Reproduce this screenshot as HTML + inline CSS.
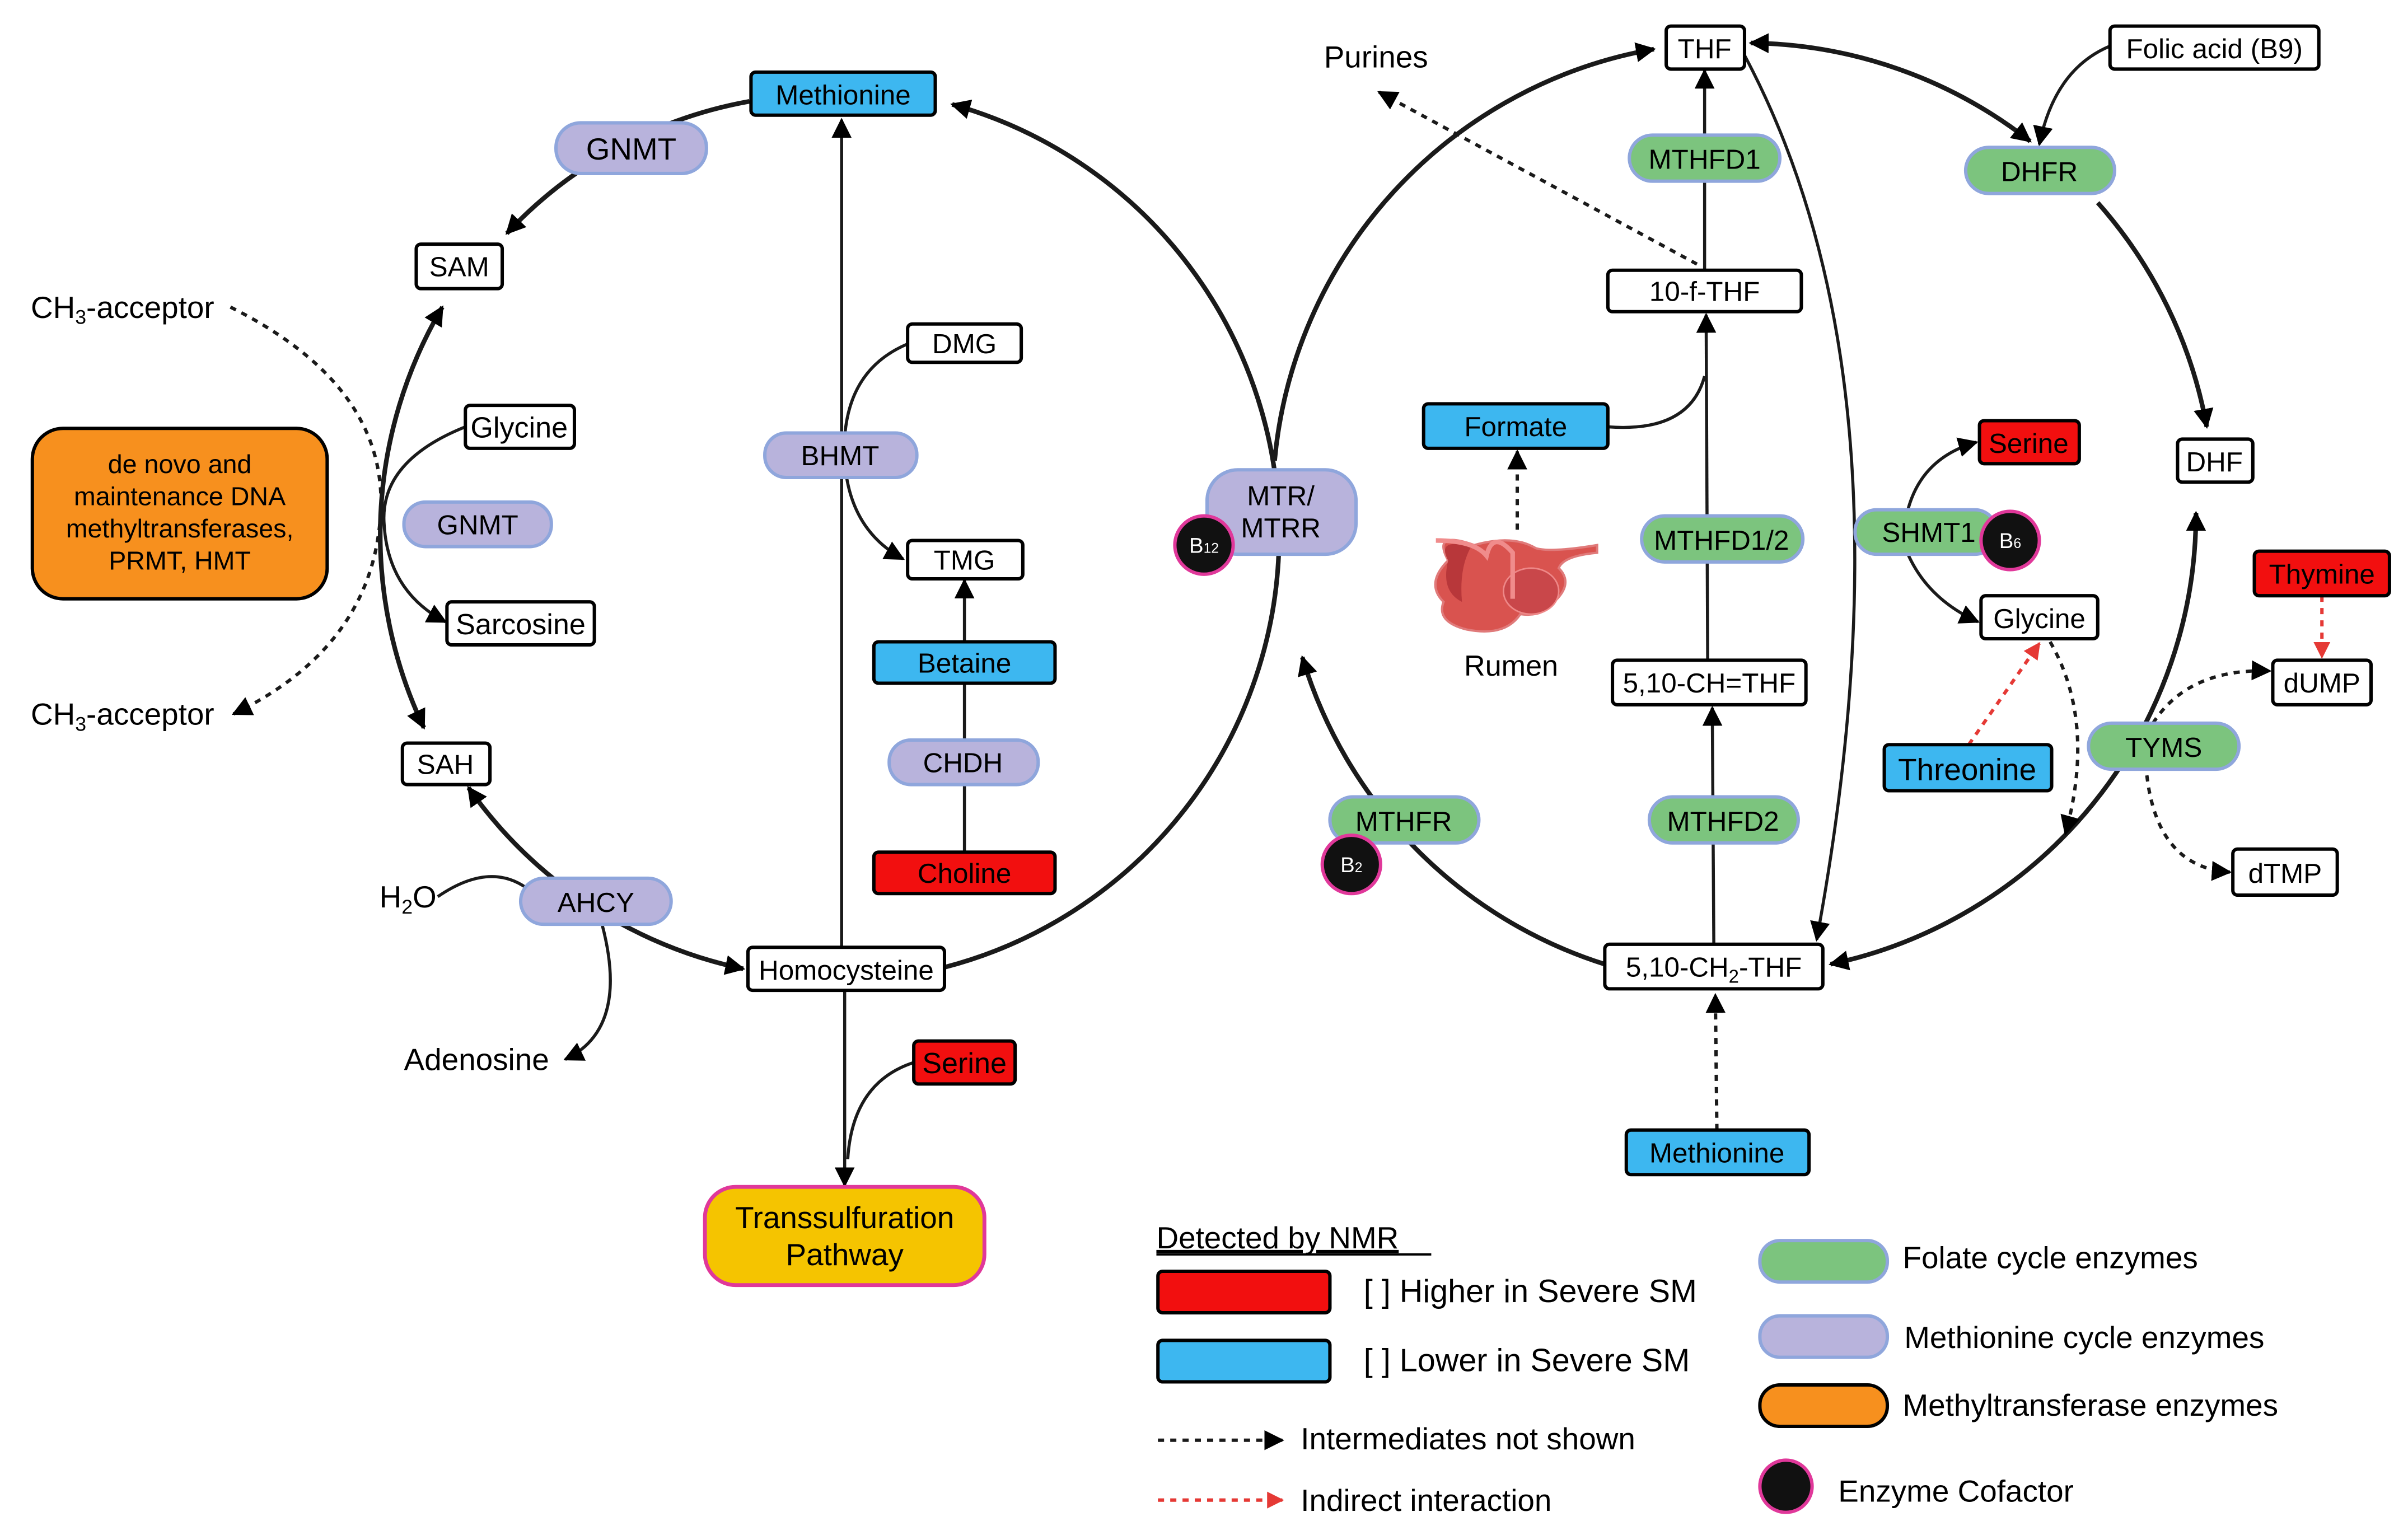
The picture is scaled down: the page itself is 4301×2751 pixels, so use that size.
<!DOCTYPE html>
<html><head><meta charset="utf-8"><style>
html,body{margin:0;padding:0;background:#fff;}
svg{display:block;}
text{font-family:"Liberation Sans",sans-serif;fill:#000;}
text.w{fill:#fff;}
</style></head><body>
<svg width="4301" height="2751" viewBox="0 0 1568 1003" xmlns="http://www.w3.org/2000/svg">
<defs>
<marker id="a" viewBox="0 0 10 10" refX="9" refY="5" markerWidth="13" markerHeight="13" markerUnits="userSpaceOnUse" orient="auto-start-reverse"><path d="M0,0L10,5L0,10z" fill="#000"/></marker>
<marker id="r" viewBox="0 0 10 10" refX="9" refY="5" markerWidth="11" markerHeight="11" markerUnits="userSpaceOnUse" orient="auto-start-reverse"><path d="M0,0L10,5L0,10z" fill="#e53935"/></marker>
</defs>
<g fill="none" stroke="#1a1a1a" stroke-width="3">
<path d="M615,630 A291,291 0 0 0 620,68" marker-end="url(#a)"/>
<path d="M488,66 A285,285 0 0 0 330,152" marker-end="url(#a)"/>
<path d="M288,200 A292,292 0 0 0 276,474" marker-start="url(#a)" marker-end="url(#a)"/>
<path d="M305,513 A292,292 0 0 0 484,631" marker-start="url(#a)" marker-end="url(#a)"/>
<path d="M830,300 A300,300 0 0 1 1077,32" marker-end="url(#a)"/>
<path d="M1140,28 A300,300 0 0 1 1322,92" marker-start="url(#a)" marker-end="url(#a)"/>
<path d="M1366,132 A300,300 0 0 1 1437,278" marker-end="url(#a)"/>
<path d="M1430,334 A300,300 0 0 1 1192,628" marker-start="url(#a)" marker-end="url(#a)"/>
<path d="M1045,628 A300,300 0 0 1 848,428" marker-end="url(#a)"/>
</g>
<g fill="none" stroke="#1a1a1a" stroke-width="2">
<path d="M1136,36 Q1250,250 1183,612" marker-end="url(#a)"/>
<path d="M548,617 L548,78" marker-end="url(#a)"/>
<path d="M591,224 Q553,240 550,285"/>
<path d="M550,300 Q553,345 588,364" marker-end="url(#a)"/>
<path d="M628,418 L628,378" marker-end="url(#a)"/>
<path d="M628,445 L628,555"/>
<path d="M550,645 L550,772" marker-end="url(#a)"/>
<path d="M595,692 Q555,705 552,755"/>
<path d="M303,278 Q248,300 250,340 Q252,385 290,405" marker-end="url(#a)"/>
<path d="M285,584 Q320,560 345,580"/>
<path d="M392,602 Q410,670 368,690" marker-end="url(#a)"/>
<path d="M1110,176 L1110,46" marker-end="url(#a)"/>
<path d="M1112,430 L1111,205" marker-end="url(#a)"/>
<path d="M1047,278 Q1100,282 1110,245"/>
<path d="M1116,615 L1115,461" marker-end="url(#a)"/>
<path d="M1374,30 Q1338,45 1328,94" marker-end="url(#a)"/>
<path d="M1240,345 Q1245,300 1287,288" marker-end="url(#a)"/>
<path d="M1242,360 Q1255,390 1288,405" marker-end="url(#a)"/>
</g>
<g fill="none" stroke="#1a1a1a" stroke-width="2.2" stroke-dasharray="4,4">
<path d="M150,200 Q250,250 248,330 Q245,420 152,465" marker-end="url(#a)"/>
<path d="M1118,736 L1117,648" marker-end="url(#a)"/>
<path d="M1105,172 L898,60" marker-end="url(#a)"/>
<path d="M988,345 L988,294" marker-end="url(#a)"/>
<path d="M1335,418 Q1365,470 1345,543" marker-end="url(#a)"/>
<path d="M1398,478 Q1420,435 1478,437" marker-end="url(#a)"/>
<path d="M1398,505 Q1405,565 1452,568" marker-end="url(#a)"/>
<path d="M754,938 L835,938" marker-end="url(#a)"/>
</g>
<g fill="none" stroke="#e53935" stroke-width="2.2" stroke-dasharray="4,4">
<path d="M1282,485 L1328,419" marker-end="url(#r)"/>
<path d="M1512,388 L1512,428" marker-end="url(#r)"/>
<path d="M754,977 L835,977" marker-end="url(#r)"/>
</g>
<g>
<path d="M943,365 Q932,345 960,355 Q985,348 1000,357 Q1010,360 1040,355 L1040,360 Q1018,362 1015,370 Q1025,380 1012,392 Q1005,402 990,400 Q980,415 955,410 Q935,405 940,392 Q928,380 943,365z" fill="#d9534f" stroke="#e07a7a" stroke-width="1.5"/>
<path d="M943,365 Q935,350 958,356 Q950,370 952,392 Q938,385 943,365z" fill="#b8373a"/>
<ellipse cx="997" cy="385" rx="18" ry="15" fill="#c9474a" stroke="#e88" stroke-width="1"/>
<path d="M935,352 Q960,352 968,362 Q972,345 985,360 L985,390" fill="none" stroke="#f08c8c" stroke-width="3"/>
</g>
<g stroke="#000" stroke-width="2.2">
<rect x="489" y="47" width="120" height="28" rx="3" fill="#3db7f0"/>
<rect x="271" y="159" width="56" height="29" rx="3" fill="#fff"/>
<rect x="303" y="264" width="71" height="28" rx="3" fill="#fff"/>
<rect x="291" y="392" width="96" height="28" rx="3" fill="#fff"/>
<rect x="262" y="484" width="57" height="27" rx="3" fill="#fff"/>
<rect x="591" y="211" width="74" height="25" rx="3" fill="#fff"/>
<rect x="591" y="352" width="75" height="25" rx="3" fill="#fff"/>
<rect x="569" y="418" width="118" height="27" rx="3" fill="#3db7f0"/>
<rect x="569" y="555" width="118" height="27" rx="3" fill="#f20f0f"/>
<rect x="487" y="617" width="128" height="28" rx="3" fill="#fff"/>
<rect x="595" y="678" width="66" height="28" rx="3" fill="#f20f0f"/>
<rect x="1085" y="17" width="51" height="28" rx="3" fill="#fff"/>
<rect x="1374" y="17" width="136" height="28" rx="3" fill="#fff"/>
<rect x="1047" y="176" width="126" height="27" rx="3" fill="#fff"/>
<rect x="927" y="263" width="120" height="29" rx="3" fill="#3db7f0"/>
<rect x="1289" y="274" width="65" height="28" rx="3" fill="#f20f0f"/>
<rect x="1290" y="388" width="76" height="28" rx="3" fill="#fff"/>
<rect x="1227" y="485" width="109" height="30" rx="3" fill="#3db7f0"/>
<rect x="1418" y="286" width="49" height="28" rx="3" fill="#fff"/>
<rect x="1468" y="359" width="88" height="29" rx="3" fill="#f20f0f"/>
<rect x="1480" y="430" width="64" height="29" rx="3" fill="#fff"/>
<rect x="1454" y="553" width="68" height="30" rx="3" fill="#fff"/>
<rect x="1050" y="430" width="126" height="29" rx="3" fill="#fff"/>
<rect x="1045" y="615" width="142" height="29" rx="3" fill="#fff"/>
<rect x="1059" y="736" width="119" height="29" rx="3" fill="#3db7f0"/>
<rect x="21" y="279" width="192" height="111" rx="20" fill="#f7901e"/>
<rect x="754" y="828" width="112" height="27" rx="3" fill="#f20f0f"/>
<rect x="754" y="873" width="112" height="27" rx="3" fill="#3db7f0"/>
<rect x="1146" y="902" width="83" height="27" rx="13" fill="#f7901e"/>
</g>
<rect x="459" y="773" width="182" height="64" rx="20" fill="#f5c400" stroke="#e0389a" stroke-width="2.5"/>
<g fill="#b8b3dc" stroke="#8fa6dc" stroke-width="2.2">
<rect x="362" y="80" width="98" height="33" rx="16"/>
<rect x="263" y="327" width="96" height="29" rx="14"/>
<rect x="498" y="282" width="99" height="29" rx="14"/>
<rect x="579" y="482" width="97" height="29" rx="14"/>
<rect x="339" y="572" width="98" height="30" rx="15"/>
<rect x="786" y="306" width="97" height="55" rx="20"/>
<rect x="1146" y="857" width="83" height="27" rx="13"/>
</g>
<g fill="#7cc47e" stroke="#8fa6dc" stroke-width="2.2">
<rect x="1061" y="88" width="98" height="30" rx="15"/>
<rect x="1280" y="96" width="97" height="30" rx="15"/>
<rect x="1069" y="336" width="105" height="30" rx="15"/>
<rect x="1208" y="332" width="92" height="29" rx="14"/>
<rect x="1360" y="471" width="98" height="30" rx="15"/>
<rect x="866" y="519" width="97" height="30" rx="15"/>
<rect x="1074" y="519" width="97" height="30" rx="15"/>
<rect x="1146" y="808" width="83" height="27" rx="13"/>
</g>
<g fill="#111" stroke="#e0389a" stroke-width="2.2">
<circle cx="784" cy="355" r="19"/>
<circle cx="1309" cy="352" r="19"/>
<circle cx="880" cy="563" r="19"/>
<circle cx="1163" cy="968" r="17"/>
</g>
<g font-size="18" text-anchor="middle">
<text x="549" y="68">Methionine</text>
<text x="411" y="104" font-size="20">GNMT</text>
<text x="299" y="180">SAM</text>
<text x="338" y="285" font-size="19">Glycine</text>
<text x="311" y="348">GNMT</text>
<text x="339" y="413" font-size="19">Sarcosine</text>
<text x="290" y="504">SAH</text>
<text x="628" y="230">DMG</text>
<text x="547" y="303">BHMT</text>
<text x="628" y="371">TMG</text>
<text x="628" y="438">Betaine</text>
<text x="627" y="503">CHDH</text>
<text x="628" y="575">Choline</text>
<text x="388" y="594">AHCY</text>
<text x="551" y="638">Homocysteine</text>
<text x="628" y="699" font-size="19">Serine</text>
<text x="550" y="800" font-size="20">Transsulfuration</text>
<text x="550" y="824" font-size="20">Pathway</text>
<text x="117" y="308" font-size="17">de novo and</text>
<text x="117" y="329" font-size="17">maintenance DNA</text>
<text x="117" y="350" font-size="17">methyltransferases,</text>
<text x="117" y="371" font-size="17">PRMT, HMT</text>
<text x="834" y="329">MTR/</text>
<text x="834" y="350">MTRR</text>
<text x="1110" y="38">THF</text>
<text x="1442" y="38">Folic acid (B9)</text>
<text x="1110" y="110">MTHFD1</text>
<text x="1328" y="118">DHFR</text>
<text x="1110" y="196">10-f-THF</text>
<text x="987" y="284">Formate</text>
<text x="1321" y="295">Serine</text>
<text x="1442" y="307">DHF</text>
<text x="1121" y="358">MTHFD1/2</text>
<text x="1256" y="353">SHMT1</text>
<text x="1512" y="380">Thymine</text>
<text x="1328" y="409">Glycine</text>
<text x="1512" y="451">dUMP</text>
<text x="1113" y="451">5,10-CH=THF</text>
<text x="1409" y="493">TYMS</text>
<text x="1281" y="508" font-size="20">Threonine</text>
<text x="914" y="541">MTHFR</text>
<text x="1122" y="541">MTHFD2</text>
<text x="1488" y="575">dTMP</text>
<text x="1116" y="636">5,10-CH<tspan font-size="12" dy="4">2</tspan><tspan dy="-4">-THF</tspan></text>
<text x="1118" y="757">Methionine</text>
<text x="984" y="440" font-size="19">Rumen</text>
<text x="896" y="44" font-size="20">Purines</text>
</g>
<g font-size="14" text-anchor="middle">
<text class="w" x="784" y="360">B<tspan font-size="9">12</tspan></text>
<text class="w" x="1309" y="357">B<tspan font-size="9">6</tspan></text>
<text class="w" x="880" y="568">B<tspan font-size="9">2</tspan></text>
</g>
<g font-size="20">
<text x="20" y="207">CH<tspan font-size="13" dy="4">3</tspan><tspan dy="-4">-acceptor</tspan></text>
<text x="20" y="472">CH<tspan font-size="13" dy="4">3</tspan><tspan dy="-4">-acceptor</tspan></text>
<text x="247" y="591">H<tspan font-size="13" dy="4">2</tspan><tspan dy="-4">O</tspan></text>
<text x="263" y="697">Adenosine</text>
<text x="753" y="813" text-decoration="underline">Detected by NMR</text>
<text x="888" y="848" font-size="21">[ ] Higher in Severe SM</text>
<text x="888" y="893" font-size="21">[ ] Lower in Severe SM</text>
<text x="847" y="944">Intermediates not shown</text>
<text x="847" y="984">Indirect interaction</text>
<text x="1239" y="826">Folate cycle enzymes</text>
<text x="1240" y="878">Methionine cycle enzymes</text>
<text x="1239" y="922">Methyltransferase enzymes</text>
<text x="1197" y="978">Enzyme Cofactor</text>
</g>
<line x1="753" y1="817" x2="932" y2="817" stroke="#000" stroke-width="1.5"/>
</svg>
</body></html>
